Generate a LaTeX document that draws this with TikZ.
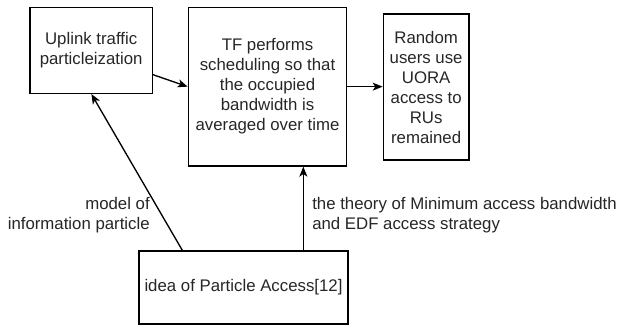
\documentclass[tikz,border=0pt]{standalone}
\usepackage{fontspec}
\setmainfont{Liberation Sans}
\usetikzlibrary{arrows.meta,calc}
\begin{document}
\begin{tikzpicture}[x=0.75pt,y=-0.75pt,
  boxnode/.style={draw=black,line width=1pt,inner sep=0pt,align=center,text=black!85,
    font=\fontsize{12.6}{15}\selectfont},
  lbl/.style={inner sep=0pt,text=black!85,font=\fontsize{12.6}{15}\selectfont},
  arr/.style={draw=black,line width=1pt,-{Stealth[length=7.5pt,width=6pt,inset=2pt]}}]
\useasboundingbox (0,0) rectangle (621,325);
\node[boxnode,minimum width=91.7pt,minimum height=64.5pt] (b1) at (91.15,50.3)
  {Uplink traffic\\particleization};
\node[boxnode,minimum width=118.8pt,minimum height=119pt] (tf) at (267.5,86.65)
  {TF performs\\scheduling so that\\the occupied\\bandwidth is\\averaged over time};
\node[boxnode,minimum width=64.3pt,minimum height=109.5pt] (rnd) at (426.15,87)
  {Random\\users use\\UORA\\access to\\RUs\\remained};
\node[boxnode,minimum width=156.75pt,minimum height=54.75pt] (b4) at (243.5,287.5)
  {idea of Particle Access[12]};
\draw[arr] ($(b1.south east)+(0,-19.3)$) -- (tf.west);
\draw[arr] (tf.east) -- (tf.east -| rnd.west);
\draw[arr] ($(b4.north west)+(44,0)$) -- ($(b1.south west)+(62,0)$);
\draw[arr] ($(b4.north west)+(165,0)$) coordinate (p) -- (p |- tf.south);
\node[lbl,align=right,anchor=east] (l1) at (150,215.5) {model of\\information particle};
\node[lbl,align=left,anchor=west] (l2) at (312,215.5) {the theory of Minimum access bandwidth\\and EDF access strategy};
\end{tikzpicture}
\end{document}
